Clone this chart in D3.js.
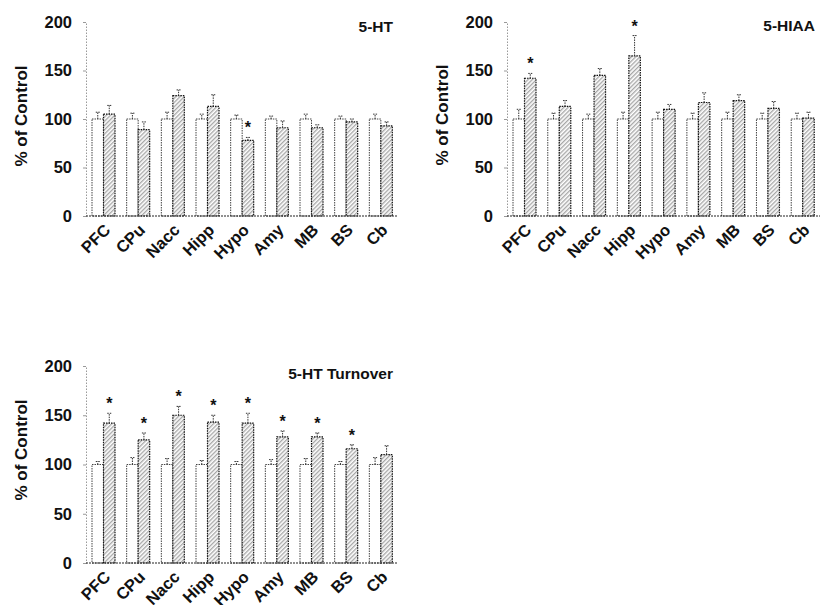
<!DOCTYPE html>
<html><head><meta charset="utf-8">
<script src="https://cdn.jsdelivr.net/npm/d3@7/dist/d3.min.js"></script>
<style>body{margin:0;background:#fff}svg{display:block}text{font-family:"Liberation Sans",Arial,sans-serif;font-weight:bold;fill:#111}</style>
</head><body>
<svg id="chart" width="821" height="605"></svg>
<script>
const categories = ['PFC','CPu','Nacc','Hipp','Hypo','Amy','MB','BS','Cb'];
const yTicks = [0,50,100,150,200];

const htControl    = [100,100,100,100,100,100,100,100,100];
const htControlErr = [7,6,7,5,4,3,5,3,5];
const htTreated    = [105,89,124,113,78,91,91,97,93];
const htTreatedErr = [9,8,6,12,3,7,3,3,4];
const htSig        = [0,0,0,0,1,0,0,0,0];

const hiaaControl    = [100,100,100,100,100,100,100,100,100];
const hiaaControlErr = [10,6,5,7,7,6,7,6,6];
const hiaaTreated    = [142,113,145,165,110,117,119,111,101];
const hiaaTreatedErr = [5,6,7,21,5,10,6,7,6];
const hiaaSig        = [1,0,0,1,0,0,0,0,0];

const toControl    = [100,100,100,100,100,100,100,100,100];
const toControlErr = [3,7,6,4,3,5,6,3,7];
const toTreated    = [142,125,150,143,142,128,128,116,110];
const toTreatedErr = [10,7,9,7,10,6,4,4,9];
const toSig        = [1,1,1,1,1,1,1,1,0];

const svg = d3.select('#chart');
const defs = svg.append('defs');
const pat = defs.append('pattern').attr('id','hatch').attr('patternUnits','userSpaceOnUse')
  .attr('width',3).attr('height',3).attr('patternTransform','rotate(45)');
pat.append('rect').attr('width',3).attr('height',3).attr('fill','#fff');
pat.append('line').attr('x1',0.75).attr('y1',0).attr('x2',0.75).attr('y2',3)
  .attr('stroke','#8a8a8a').attr('stroke-width',1);

const panels = [
  {title:'5-HT', x0:86, x1:398, yTop:22, yBot:216, titleX:393, titleY:32, labelY:116,
   c:htControl, ce:htControlErr, t:htTreated, te:htTreatedErr, sig:htSig},
  {title:'5-HIAA', x0:507, x1:820, yTop:22, yBot:216, titleX:815, titleY:31, labelY:115,
   c:hiaaControl, ce:hiaaControlErr, t:hiaaTreated, te:hiaaTreatedErr, sig:hiaaSig},
  {title:'5-HT Turnover', x0:86, x1:398, yTop:366, yBot:563, titleX:393, titleY:379, labelY:450,
   c:toControl, ce:toControlErr, t:toTreated, te:toTreatedErr, sig:toSig}
];

panels.forEach(p => {
  const g = svg.append('g');
  const x = d3.scaleBand().domain(categories).range([p.x0, p.x1]);
  const xi = d3.scaleBand().domain(['c','t']).range([6, 29]);
  const y = d3.scaleLinear().domain([0,200]).range([p.yBot, p.yTop]);

  // y axis
  const ya = g.append('g').attr('transform',`translate(${p.x0},0)`)
    .call(d3.axisLeft(y).tickValues(yTicks).tickSize(3).tickPadding(11));
  ya.select('.domain').attr('stroke','#999').attr('stroke-dasharray','1.5,1.5');
  ya.selectAll('.tick line').attr('stroke','#999');
  ya.selectAll('.tick text').style('font-size','16.5px').style('font-family','"Liberation Sans",Arial,sans-serif')
    .style('font-weight','bold').attr('fill','#111');

  const data = categories.map((k,i)=>({k, c:p.c[i], ce:p.ce[i], t:p.t[i], te:p.te[i], s:p.sig[i]}));

  // control bars
  g.selectAll(null).data(data).enter().append('rect')
    .attr('x', d=>x(d.k)+xi('c')).attr('width', xi.bandwidth())
    .attr('y', d=>y(d.c)).attr('height', d=>y(0)-y(d.c))
    .attr('fill','#fff').attr('stroke','#444').attr('stroke-width',1)
    .attr('stroke-dasharray','1.5,1');
  // treated bars
  g.selectAll(null).data(data).enter().append('rect')
    .attr('x', d=>x(d.k)+xi('t')).attr('width', xi.bandwidth())
    .attr('y', d=>y(d.t)).attr('height', d=>y(0)-y(d.t))
    .attr('fill','url(#hatch)').attr('stroke','#111').attr('stroke-width',1.2)
    .attr('stroke-dasharray','1.5,1');

  // error bars
  const err = (key, ekey, inner) => {
    g.selectAll(null).data(data).enter().append('path')
      .attr('d', d=>{
        const cx = x(d.k)+xi(inner)+xi.bandwidth()/2;
        const yt = y(d[key]+d[ekey]);
        return `M${cx},${y(d[key])}V${yt}M${cx-2},${yt}H${cx+2}`;
      })
      .attr('fill','none').attr('stroke','#333').attr('stroke-width',1)
      .attr('stroke-dasharray','1.5,1');
  };
  err('c','ce','c');
  err('t','te','t');

  // x axis line
  g.append('line').attr('x1',p.x0).attr('x2',p.x1).attr('y1',y(0)).attr('y2',y(0))
    .attr('stroke','#222').attr('stroke-width',1.2).attr('stroke-dasharray','2,1');

  // significance stars
  g.selectAll(null).data(data.filter(d=>d.s)).enter().append('text')
    .attr('x', d=>x(d.k)+xi('t')+xi.bandwidth()/2)
    .attr('y', d=>y(d.t+d.te)-4)
    .attr('text-anchor','middle').style('font-size','16px').text('*');

  // category labels (rotated)
  g.selectAll(null).data(categories).enter().append('g')
    .attr('transform', d=>`translate(${x(d)+x.bandwidth()/2+1},${y(0)+8})`)
    .append('text')
    .attr('text-anchor','end')
    .attr('dy','0.6em')
    .attr('transform','rotate(-45)')
    .style('font-size','16.5px').text(d=>d);

  // y label
  g.append('text').attr('text-anchor','middle')
    .attr('transform',`translate(${p.x0-59},${p.labelY}) rotate(-90)`)
    .style('font-size','17px').text('% of Control');

  // title
  g.append('text').attr('x',p.titleX).attr('y',p.titleY).attr('text-anchor','end')
    .style('font-size','15.5px').text(p.title);
});
</script>
</body></html>
